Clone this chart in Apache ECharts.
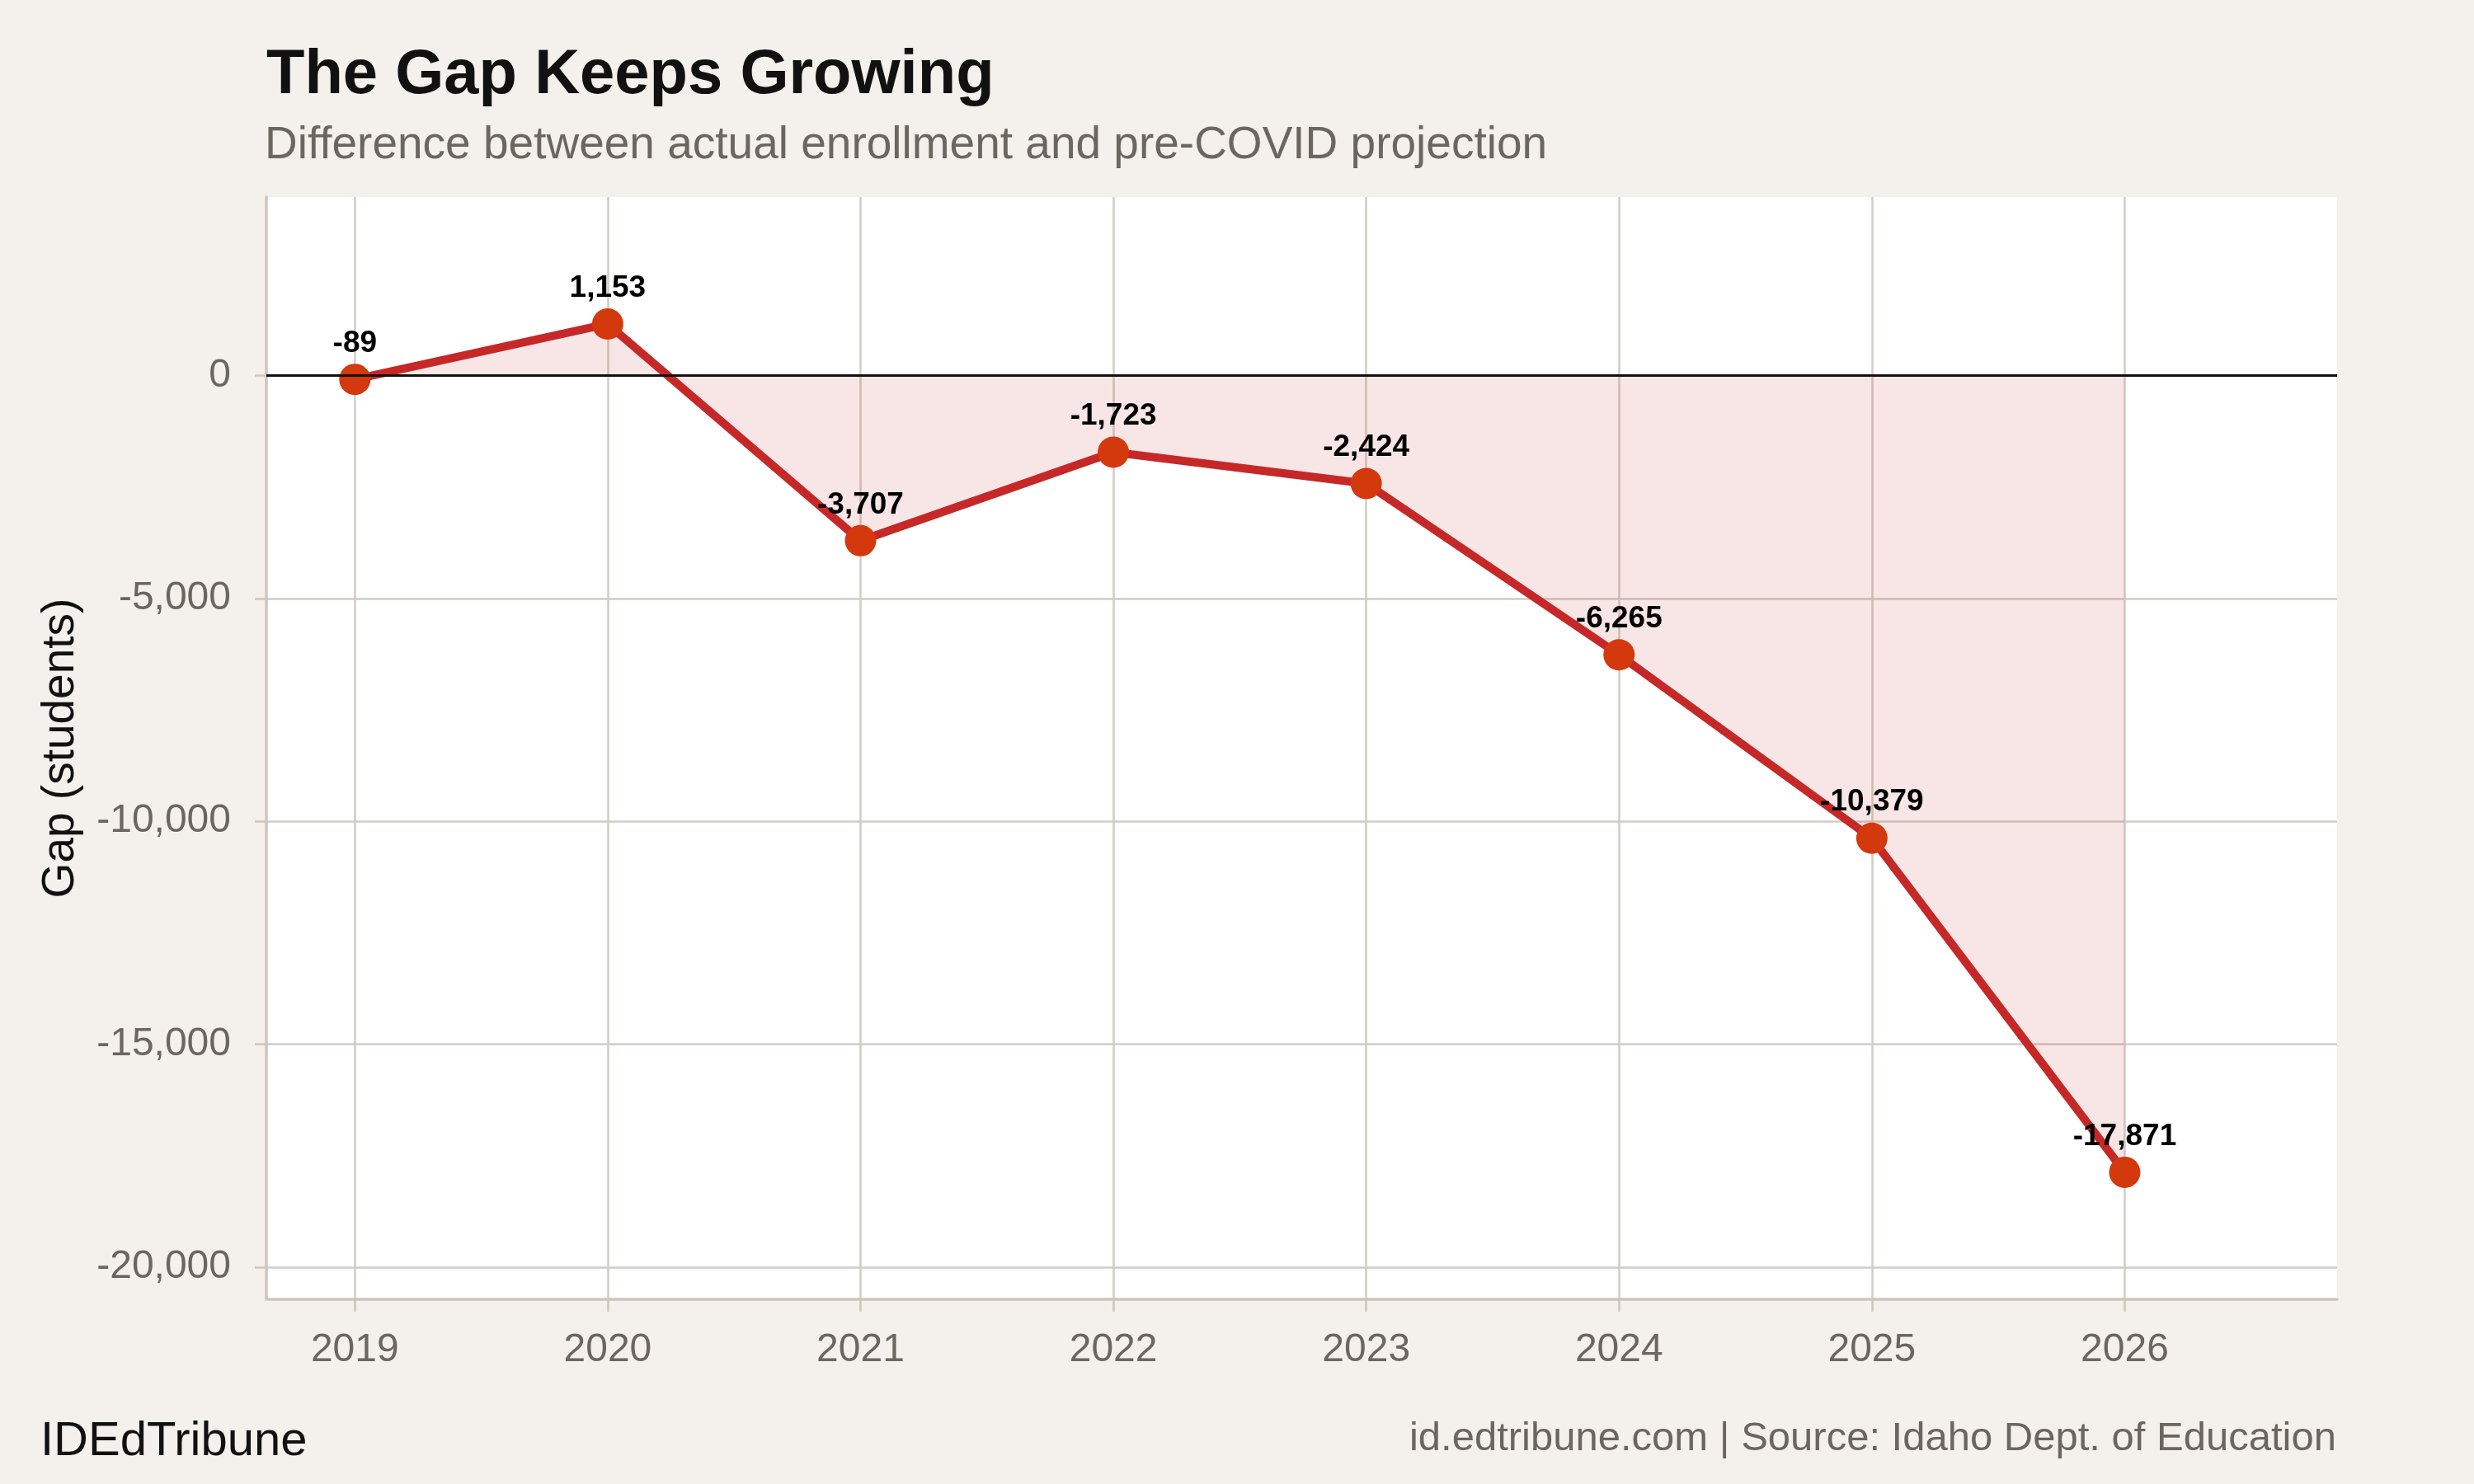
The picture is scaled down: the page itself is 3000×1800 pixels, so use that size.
<!DOCTYPE html>
<html>
<head>
<meta charset="utf-8">
<script src="https://cdn.jsdelivr.net/npm/echarts@6/dist/echarts.min.js"></script>
<style>
  html, body { margin: 0; padding: 0; background: #F4F1EC; }
  #chart { width: 3000px; height: 1800px; }
</style>
</head>
<body>
<div id="chart"></div>
<script>
const years = [2019, 2020, 2021, 2022, 2023, 2024, 2025, 2026];
const gaps = [-89, 1153, -3707, -1723, -2424, -6265, -10379, -17871];
const yTicks = [-20000, -15000, -10000, -5000, 0];
const xTicks = [2019, 2020, 2021, 2022, 2023, 2024, 2025, 2026];

const titleText = 'The Gap Keeps Growing';
const subtitleText = 'Difference between actual enrollment and pre-COVID projection';
const yAxisTitle = 'Gap (students)';
const brandText = 'IDEdTribune';
const sourceText = 'id.edtribune.com | Source: Idaho Dept. of Education';

const FONT = '"Liberation Sans", Arial, Helvetica, sans-serif';
const GRID = '#D1CCC4';
const AXIS = '#CCC6BD';
const GREY = '#6B6660';

function fmt(v) {
  const s = String(Math.abs(Math.round(v))).replace(/\B(?=(\d{3})+(?!\d))/g, ',');
  return (v < 0 ? '-' : '') + s;
}

const chart = echarts.init(document.getElementById('chart'), null, { renderer: 'canvas' });

chart.setOption({
  animation: false,
  backgroundColor: '#F4F1EC',
  title: [
    { text: titleText, left: 323, top: 54, padding: 0,
      textStyle: { fontFamily: FONT, fontSize: 76, lineHeight: 76, fontWeight: 'bold', color: '#111' } },
    { text: subtitleText, left: 321, top: 149, padding: 0,
      textStyle: { fontFamily: FONT, fontSize: 55, lineHeight: 55, fontWeight: 'normal', color: GREY } },
    { text: brandText, left: 49, top: 1720, padding: 0,
      textStyle: { fontFamily: FONT, fontSize: 58, lineHeight: 58, fontWeight: 'normal', color: '#111' } },
    { text: sourceText, right: 167, top: 1721, padding: 0,
      textStyle: { fontFamily: FONT, fontSize: 49, lineHeight: 49, fontWeight: 'normal', color: GREY } }
  ],
  grid: {
    left: 323, top: 239, right: 166, bottom: 224,
    show: true, backgroundColor: '#FFFFFF', borderWidth: 0
  },
  xAxis: {
    type: 'value',
    min: 2018.65, max: 2026.84,
    axisLine: { show: true, onZero: false, lineStyle: { color: AXIS, width: 3.5 } },
    axisTick: { show: true, customValues: xTicks, length: 15, lineStyle: { color: AXIS, width: 2.5 } },
    axisLabel: { show: true, customValues: xTicks, formatter: v => String(v), margin: 38,
      fontFamily: FONT, fontSize: 48, color: GREY },
    splitLine: { show: true, lineStyle: { color: GRID, width: 2.5 } }
  },
  yAxis: {
    type: 'value',
    min: -20720, max: 4000,
    name: yAxisTitle,
    nameLocation: 'middle',
    nameRotate: 90,
    nameGap: 222,
    nameTextStyle: { fontFamily: FONT, fontSize: 55, lineHeight: 55, color: '#111' },
    axisLine: { show: true, onZero: false, lineStyle: { color: AXIS, width: 3.5 } },
    axisTick: { show: true, customValues: yTicks, length: 14, lineStyle: { color: AXIS, width: 2.5 } },
    axisLabel: { show: true, customValues: yTicks, formatter: v => fmt(v), margin: 43,
      fontFamily: FONT, fontSize: 48, color: GREY },
    splitLine: { show: true, lineStyle: { color: GRID, width: 2.5 } }
  },
  series: [{
    type: 'line',
    data: years.map((y, i) => [y, gaps[i]]),
    symbol: 'circle',
    symbolSize: 38,
    showSymbol: true,
    lineStyle: { color: '#C62828', width: 10 },
    itemStyle: { color: '#D4380D' },
    areaStyle: { color: 'rgba(198,40,40,0.17)', origin: 'auto' },
    label: {
      show: true, position: 'top', distance: 6,
      formatter: p => fmt(p.value[1]),
      fontFamily: FONT, fontSize: 37, lineHeight: 37, fontWeight: 'bold', color: '#000'
    },
    emphasis: { disabled: true },
    markLine: {
      silent: true,
      symbol: ['none', 'none'],
      label: { show: false },
      lineStyle: { color: '#111', width: 3, type: 'solid' },
      data: [{ yAxis: 0 }]
    }
  }]
});
</script>
</body>
</html>
